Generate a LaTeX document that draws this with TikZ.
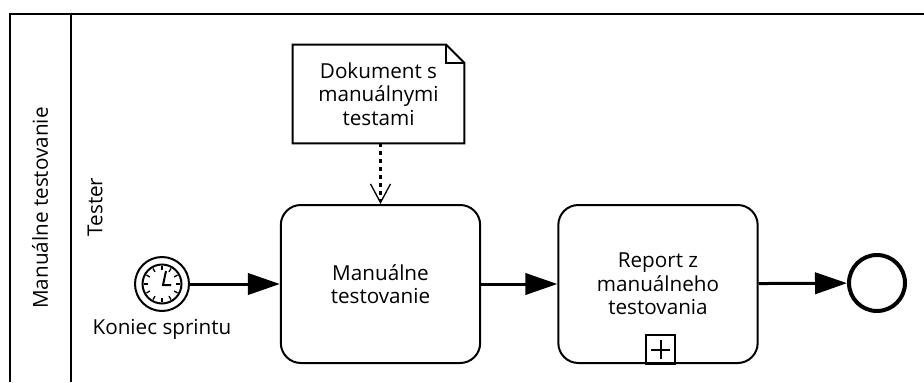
\documentclass[tikz,border=0pt]{standalone}
\usepackage{fontspec}
\setmainfont{Open Sans}
\usetikzlibrary{arrows.meta}
\usetikzlibrary{positioning}
\tikzset{>=latex}
\tikzset{
  lanebox/.style={line width=1.5pt},
  task/.style={rectangle,draw,line width=1.5pt,rounded corners=15pt,minimum width=149.5pt,minimum height=118.5pt,inner sep=0pt,align=center,font=\fontsize{15.5}{17.5}\selectfont},
  lbl/.style={font=\fontsize{15.5}{17.5}\selectfont,inner sep=0pt},
  flow/.style={line width=2.25pt,-{Triangle[length=24pt,width=16pt]}},
  assoc/.style={line width=2.25pt,dash pattern=on 3pt off 3pt,-{Straight Barb[length=14pt,width=15pt,line width=1pt]}}
}

\begin{document}
\begin{tikzpicture}[x=0.75pt,y=-0.75pt]
    \useasboundingbox (0,0) rectangle (924,382);
    % pool and lane
    \draw [lanebox] (924,14) -- (10,14) -- (10,382);
    \draw [lanebox] (71,14) -- (71,382);
    \node at (40,208) [lbl,rotate=90] (pool) {Manuálne testovanie};
    \node at (95,207) [lbl,rotate=90] (lane) {Tester};
    % events
    \node at (162,284) [circle,draw,line width=1.5pt,minimum size=40.5pt,inner sep=0pt] (start) {};
    \node at (162,284) [circle,draw,line width=1.5pt,minimum size=29.25pt,inner sep=0pt] (clock) {};
    \foreach \a in {0,30,...,330}
      \draw [line width=1pt] ([shift={(\a:14)}]clock.center) -- ([shift={(\a:18)}]clock.center);
    \draw [line width=1.5pt] (166,271) -- (163,285) -- (171,285);
    \node [lbl,below=5pt of start] (startlbl) {Koniec sprintu};
    \node at (877,283) [circle,draw,line width=3pt,minimum size=42pt,inner sep=0pt] (end) {};
    % tasks
    \node at (380.5,284) [task] (test) {Manuálne\\testovanie};
    \node at (658,284) [task] (report) {Report z\\manuálneho\\testovania};
    \node at (660.5,349.5) [rectangle,draw,line width=1.2pt,minimum size=21.75pt,inner sep=0pt] (plus) {};
    \draw [line width=1.5pt] ([yshift=-7pt]plus.center) -- ([yshift=7pt]plus.center)
      ([xshift=-7pt]plus.center) -- ([xshift=7pt]plus.center);
    % data object
    \node at (378.5,94) [rectangle,minimum width=128.25pt,minimum height=73.5pt,inner sep=0pt,align=center,font=\fontsize{15.5}{17.5}\selectfont] (doc) {Dokument s\\manuálnymi\\testami};
    \draw [line width=1.5pt] (doc.north west) -- ([xshift=-13.5pt]doc.north east) -- ([yshift=-13.5pt]doc.north east)
      -- (doc.south east) -- (doc.south west) -- cycle;
    \draw [line width=1.5pt] ([xshift=-13.5pt]doc.north east) |- ([yshift=-13.5pt]doc.north east);
    % connectors
    \draw [flow] (start) to (test);
    \draw [flow] (test) to (report);
    \draw [flow] (report) to (end);
    \draw [assoc] (doc.south -| test.north) to (test.north);
  \end{tikzpicture}
\end{document}
